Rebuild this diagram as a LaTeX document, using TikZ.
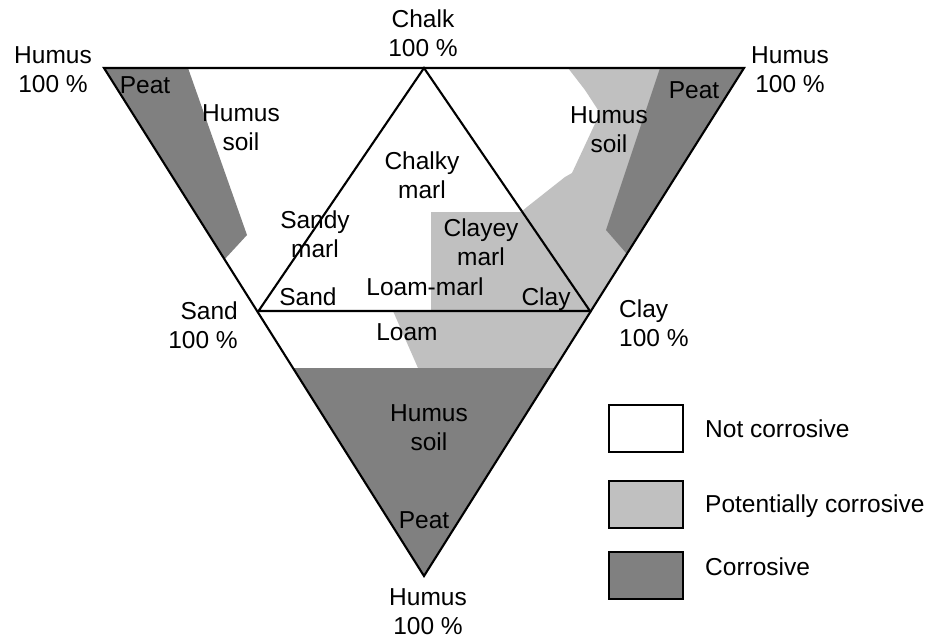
\documentclass[tikz,border=0pt]{standalone}
\usepackage{fontspec}
\setmainfont{Liberation Sans}
\definecolor{darkg}{HTML}{808080}
\definecolor{lightg}{HTML}{C0C0C0}
\begin{document}
\begin{tikzpicture}[x=1pt,y=-1pt,
  lbl/.style={font=\fontsize{24.5}{28.5}\selectfont, inner sep=0pt, anchor=base, align=center},
  edgeline/.style={line width=2.1pt, line join=miter},
  legbox/.style={draw, line width=2.5pt, minimum width=74pt, minimum height=47pt, inner sep=0pt}]
\useasboundingbox (0,0) rectangle (934,638);
\coordinate (TL) at (104,68);
\coordinate (TR) at (744,68);
\coordinate (B) at (424,576);
\coordinate (IA) at (424,68);
\coordinate (IL) at (258.5,311);
\coordinate (IR) at (590,311);
\begin{scope}
  \clip (TL) -- (TR) -- (B) -- cycle;
  \fill[lightg] (568,68) -- (760,68) -- (760,368) -- (418,368) -- (393,311) -- (431,311)
     -- (431,212) -- (521,212) -- (527,207) -- (565,177) -- (572,173) -- (600,113) -- (585,90) -- cycle;
  \fill[darkg] (660,68) -- (760,68) -- (640,269) -- (606,230) -- cycle;
  \fill[darkg] (188,68) -- (247,235) -- (200,286) -- (90,68) -- cycle;
  \fill[darkg] (250,368) -- (600,368) -- (424,600) -- cycle;
\end{scope}
\draw[edgeline] (TL) -- (TR) -- (B) -- cycle;
\draw[edgeline] (IA) -- (IR) -- (IL) -- cycle;
% corner labels (base anchor = baseline of last line)
\node[lbl] (chalk) at (423,56) {Chalk\\100 \%};
\node[lbl] (humTL) at (53,92) {Humus\\100 \%};
\node[lbl] (humTR) at (790,92) {Humus\\100 \%};
\node[lbl, align=right, anchor=base east] (sand100) at (238,348) {Sand\\100 \%};
\node[lbl, align=left, anchor=base west] (clay100) at (619,346) {Clay\\100 \%};
\node[lbl] (humB) at (428,634) {Humus\\100 \%};
% region labels
\node[lbl] (peatTL) at (145,93) {Peat};
\node[lbl] (hsL) at (241,150) {Humus\\soil};
\node[lbl] (hsR) at (609,152) {Humus\\soil};
\node[lbl] (peatR) at (694,98) {Peat};
\node[lbl] (chalky) at (422,198) {Chalky\\marl};
\node[lbl] (sandy) at (315,257) {Sandy\\marl};
\node[lbl] (clayey) at (481,265) {Clayey\\marl};
\node[lbl] (sandIn) at (308,305) {Sand};
\node[lbl] (loammarl) at (425,295) {Loam-marl};
\node[lbl] (clayIn) at (546,305) {Clay};
\node[lbl] (loam) at (407,340) {Loam};
\node[lbl] (hsB) at (429,450) {Humus\\soil};
\node[lbl] (peatB) at (424,528) {Peat};
% legend
\node[legbox, fill=white] (leg1) at (646,428.5) {};
\node[legbox, fill=lightg] (leg2) at (646,504.5) {};
\node[legbox, fill=darkg] (leg3) at (646,575.5) {};
\node[lbl, anchor=base west] (legt1) at (705,437) {Not corrosive};
\node[lbl, anchor=base west] (legt2) at (705,512) {Potentially corrosive};
\node[lbl, anchor=base west] (legt3) at (705,575) {Corrosive};
\end{tikzpicture}
\end{document}
